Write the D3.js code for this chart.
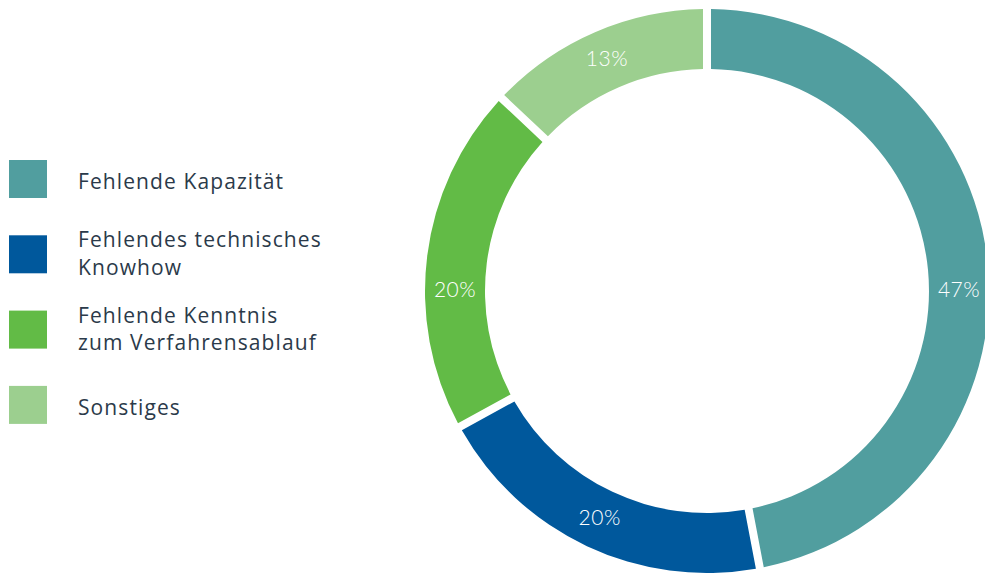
<!DOCTYPE html>
<html>
<head>
<meta charset="utf-8">
<script src="https://cdn.jsdelivr.net/npm/d3@7"></script>
<style>
  body { margin: 0; background: #fff; }
  svg { display: block; }
</style>
</head>
<body>
<script>
// Daten
var categories = ["Fehlende Kapazität", "Fehlendes technisches\nKnowhow", "Fehlende Kenntnis\nzum Verfahrensablauf", "Sonstiges"];
var values = [47, 20, 20, 13];
var colors = ["#519e9f", "#00589c", "#62bb46", "#9ccf8f"];

var width = 985, height = 573;
var cx = 707, cy = 291;
var outerR = 282, innerR = 222;

var svg = d3.select("body").append("svg")
  .attr("width", width)
  .attr("height", height);

// Ring
var pie = d3.pie().sort(null).value(function(d) { return d; });
var arcs = pie(values);

var arc = d3.arc()
  .innerRadius(innerR)
  .outerRadius(outerR)
  .padRadius(252)
  .padAngle(8 / 252);

var ring = svg.append("g")
  .attr("transform", "translate(" + cx + "," + cy + ")");

ring.selectAll("path")
  .data(arcs)
  .enter()
  .append("path")
  .attr("d", arc)
  .attr("fill", function(d, i) { return colors[i]; });

// Beschriftung: Mitte des Rings, nahe der Horizontalen einrasten
var labelR = (innerR + outerR) / 2;
ring.selectAll("text")
  .data(arcs)
  .enter()
  .append("text")
  .text(function(d) { return d.data + "%"; })
  .attr("x", function(d) { return labelR * Math.sin(labelAngle(d)); })
  .attr("y", function(d) { return -labelR * Math.cos(labelAngle(d)); })
  .attr("dy", "0.3em")
  .attr("text-anchor", "middle")
  .attr("font-family", "Lato, 'Open Sans', sans-serif")
  .attr("font-weight", 300)
  .attr("font-size", "21px")
  .attr("letter-spacing", "0.5px")
  .attr("fill", "#fff");

function labelAngle(d) {
  var a = (d.startAngle + d.endAngle) / 2;
  var snaps = [Math.PI / 2, 3 * Math.PI / 2];
  snaps.forEach(function(s) {
    if (Math.abs(a - s) < 0.15) a = s;
  });
  return a;
}

// Legende
var legend = svg.append("g");
var item = legend.selectAll("g")
  .data(categories)
  .enter()
  .append("g")
  .attr("transform", function(d, i) { return "translate(9," + (160 + i * 75.3) + ")"; });

item.append("rect")
  .attr("width", 38)
  .attr("height", 38)
  .attr("fill", function(d, i) { return colors[i]; });

item.append("text")
  .attr("font-family", "'Open Sans', sans-serif")
  .attr("font-size", "21px")
  .attr("letter-spacing", "1.1px")
  .attr("fill", "#2b3a4a")
  .each(function(d) {
    var lines = d.split("\n");
    var t = d3.select(this);
    lines.forEach(function(l, j) {
      t.append("tspan")
        .attr("x", 69)
        .attr("y", 29 - (lines.length - 1) * 17 + j * 27.5)
        .text(l);
    });
  });
</script>
</body>
</html>
